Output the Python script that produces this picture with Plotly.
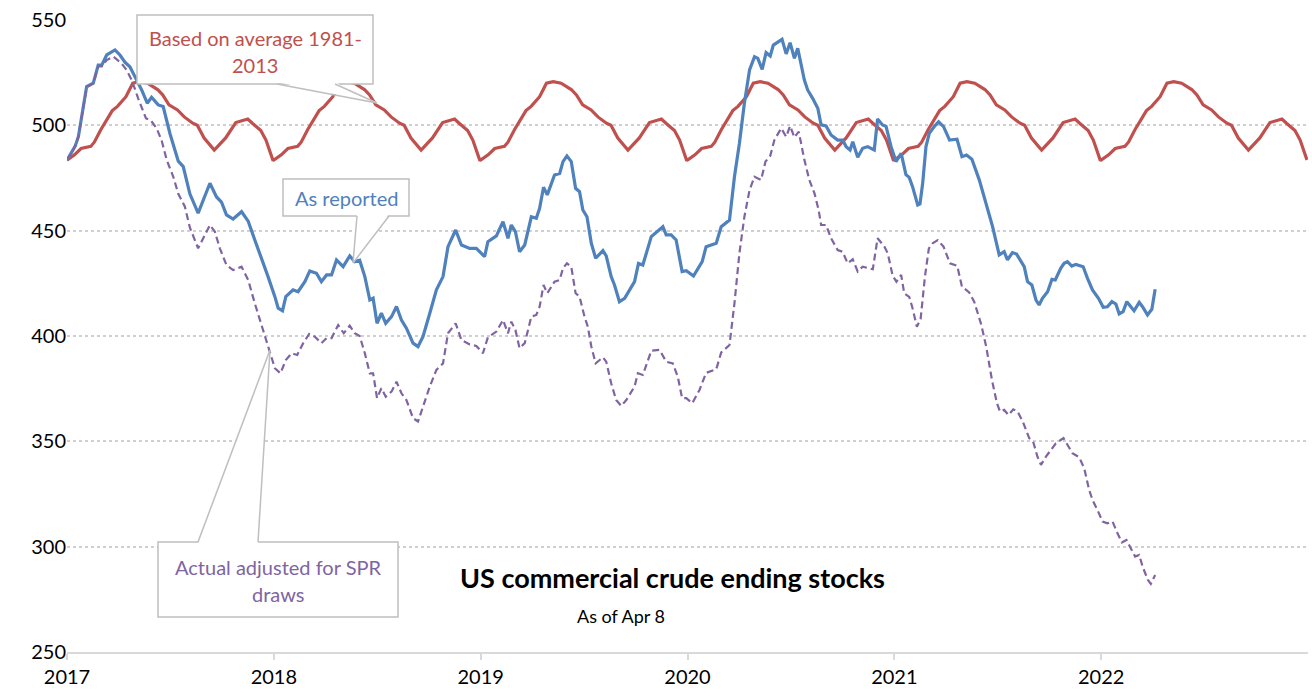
import plotly.graph_objects as go

# ---------------- data ----------------
# x positions are decimal years (2017.0 = 1 Jan 2017)
blue_t = [0.000,0.039,0.055,0.071,0.095,0.127,0.151,0.168,0.192,0.232,0.256,0.280,0.304,0.329,0.361,0.388,0.409,0.441,0.465,0.498,
0.538,0.562,0.594,0.634,0.691,0.723,0.747,0.771,0.803,0.844,0.876,0.908,0.941,0.972,1.005,1.021,1.042,1.058,1.093,1.117,
1.150,1.174,1.206,1.230,1.255,1.279,1.303,1.335,1.367,1.391,1.415,1.440,1.464,1.480,1.499,1.520,1.541,1.569,1.593,1.617,
1.641,1.673,1.697,1.721,1.754,1.786,1.818,1.842,1.879,1.907,1.947,1.979,2.019,2.035,2.076,2.108,2.132,2.148,2.168,2.188,
2.213,2.245,2.269,2.285,2.304,2.322,2.357,2.382,2.398,2.417,2.438,2.459,2.478,2.494,2.514,2.535,2.556,2.591,2.607,2.631,
2.647,2.671,2.696,2.744,2.763,2.784,2.825,2.881,2.897,2.921,2.945,2.974,2.994,3.029,3.071,3.090,3.139,3.163,3.203,3.227,
3.251,3.275,3.300,3.324,3.340,3.361,3.380,3.400,3.415,3.457,3.477,3.496,3.517,3.533,3.565,3.581,3.605,3.630,3.646,3.670,
3.694,3.726,3.750,3.767,3.786,3.799,3.823,3.847,3.871,3.903,3.919,3.943,3.960,3.984,4.008,4.033,4.056,4.072,4.088,4.113,
4.124,4.137,4.153,4.169,4.193,4.214,4.238,4.267,4.303,4.327,4.349,4.375,4.411,4.443,4.475,4.507,4.531,4.547,4.571,4.591,
4.628,4.644,4.665,4.685,4.700,4.716,4.741,4.762,4.778,4.805,4.821,4.837,4.858,4.878,4.913,4.934,4.958,4.987,5.010,5.030,
5.052,5.071,5.087,5.106,5.124,5.159,5.184,5.200,5.224,5.245,5.261]
blue_v = [483.5,490,494.6,504,518.4,520,528.6,528.6,533.4,535.8,533.4,530,527.8,523,516.8,510.5,513.3,509.7,508.9,496,
483,480.4,467.5,458.3,472.5,466,463.5,457.5,455.5,459,454.5,445.6,436.9,428.2,418.7,413.2,412,418.7,421.9,421,
425.8,430.9,429.8,425.8,429,429,436.1,432.9,438,435.3,436,428.2,417.1,417.9,406,410.8,406,409.2,414,407.6,
403.7,396.6,395,399.7,410.8,421.9,428.2,442.4,450.3,443.2,441.6,441.6,437.7,444.8,447.5,454.3,446.4,452.7,449.5,440,
443.2,456.6,455.9,460.6,470.6,467,476.4,477.2,482.8,485.5,482.8,470.1,468.5,459.8,456.6,444,436.9,440.5,438,428.2,
424.2,416.3,417.9,425.8,434.5,433.7,447.2,451.9,448,448,445.6,430.6,431,428.5,435.3,442.4,444,451.9,455,475.6,
491.5,510.5,526.3,532.6,531.8,526.6,534.5,532.9,538.1,540.8,533.9,539.2,531.8,536.6,521.5,516.8,512.8,508.1,500.2,499.7,
495.4,493,493,489.9,488.3,492.2,484.8,489.1,489.9,488.3,503,500.2,499.5,490,482.8,486.7,476.6,475.3,470.9,462.2,
462.7,472.5,489.9,496.2,499.4,501.7,499.4,493,493.4,485.1,485.9,483.9,474,463,451.9,438.5,440,436.1,439.6,438.9,
432.9,425.8,424.2,417.1,414.7,417.9,421,426.9,426.6,432.2,434.5,435.3,433.2,434,432.9,427.4,421.9,417.9,413.6,413.9,
416.3,415.2,410.5,411.6,416.3,412,416,413.9,410,412.7,422.2]

purple_t = [0.000,0.039,0.055,0.071,0.095,0.127,0.151,0.168,0.192,0.224,0.264,0.288,0.313,0.344,0.382,0.404,0.433,0.457,0.482,0.514,
0.538,0.570,0.594,0.634,0.691,0.715,0.739,0.771,0.803,0.844,0.876,0.908,0.941,0.972,1.005,1.032,1.058,1.086,1.113,1.142,
1.171,1.198,1.230,1.255,1.279,1.311,1.338,1.367,1.391,1.415,1.440,1.464,1.480,1.499,1.520,1.541,1.569,1.593,1.617,1.641,
1.673,1.697,1.721,1.754,1.786,1.818,1.842,1.879,1.907,1.947,1.979,2.011,2.035,2.076,2.108,2.132,2.148,2.168,2.188,2.213,
2.245,2.269,2.285,2.304,2.322,2.357,2.382,2.398,2.417,2.438,2.459,2.478,2.502,2.518,2.535,2.556,2.591,2.607,2.631,2.655,
2.680,2.704,2.744,2.760,2.784,2.825,2.865,2.897,2.929,2.953,2.974,2.994,3.023,3.058,3.090,3.139,3.163,3.203,3.227,3.251,
3.275,3.300,3.324,3.356,3.377,3.400,3.420,3.453,3.477,3.496,3.517,3.538,3.565,3.589,3.614,3.634,3.646,3.670,3.694,3.726,
3.750,3.774,3.799,3.823,3.847,3.896,3.919,3.952,3.968,3.992,4.010,4.033,4.048,4.072,4.088,4.109,4.127,4.148,4.167,4.185,
4.210,4.238,4.269,4.304,4.327,4.362,4.386,4.420,4.444,4.472,4.496,4.511,4.531,4.552,4.575,4.596,4.623,4.652,4.671,4.692,
4.709,4.733,4.757,4.781,4.818,4.837,4.861,4.894,4.918,4.942,4.958,4.982,5.007,5.030,5.055,5.079,5.100,5.122,5.143,5.164,
5.184,5.200,5.226,5.240,5.261]
purple_v = [483.5,490,494.6,504,518,520,528,528,531,532.6,529.4,526.3,521.5,512.8,503.3,502.5,498.6,493,483.6,475.6,
467.5,461.4,451.5,441.6,452.7,449.5,441.6,433.7,431.3,432.9,426.6,415.5,405.2,395,384.7,382.3,388.6,391.8,391,396.6,
401,399.7,396.6,399,399,405.2,401.3,404.9,401.3,400,391.8,382.3,382.3,370.5,375.2,371.2,373.6,378.3,372.8,369.6,
361,359.4,366.5,376,383.9,387,401.3,406,398.1,396,395.3,391.8,399.4,402.1,407.6,401.3,406.8,402.9,394.2,396.6,
409.2,410,413.9,424.2,420.3,425.8,426.6,432.2,434.5,432.9,420.3,418.7,409.2,404.4,395,387,389.9,387.8,377.6,369.6,
366.8,369.6,376,382.3,381.5,393,393.4,387.8,387,380.7,370.5,370.5,368.1,374.4,382.5,384.2,392.2,395.7,415.5,439.3,
456.6,469.3,475.6,474.1,482.8,485.5,493,498.6,494.6,499.7,494.3,497,483.6,474.1,467.7,459.8,452.7,452.7,446.4,440.8,
440,434.5,436.4,430.6,432.9,431.7,446.4,442.4,439.3,428.6,425.8,429,420.2,418.6,413.2,404.4,408,428.2,441.6,444,
445.5,442.4,434.5,433.3,423.4,420.7,416.3,405.5,395,379.1,368.1,364.1,364.9,362.5,365.2,364.1,358.9,351.5,349.9,342.7,
338.8,342.7,345.9,349.1,351.5,348.3,344.4,342.4,337.2,326.9,322.2,317.4,311.9,311.1,311.9,306.4,302,303.2,299.3,295.3,
296.1,290.6,284.2,282.3,286.6]

# seasonal average (1981-2013) pattern, fraction of year -> level, repeated each year
avg_frac = [0.000,0.036,0.068,0.115,0.132,0.164,0.219,0.244,0.285,0.318,0.351,0.389,0.438,0.463,0.493,0.534,0.567,0.608,0.630,0.663,
0.712,0.767,0.816,0.874,0.896,0.937,0.962,0.995]
avg_vals = [483.5,486,489,490,492,498,507,509,513.6,520,520.7,520,517,514.4,509.7,507.3,504,501,500,494,
488.3,494,501.3,503,501,497.5,493,483.6]
years = [2017, 2018, 2019, 2020, 2021, 2022]
year_labels = ["2017", "2018", "2019", "2020", "2021", "2022"]

# ---------------- figure ----------------
BLUE = "#4f81bd"
RED = "#c0504d"
PURPLE = "#8064a2"
GREY = "#bfbfbf"
FONT = "Lato"

red_x, red_y = [], []
for yr in years:
    for f, v in zip(avg_frac, avg_vals):
        red_x.append(yr + f)
        red_y.append(v)

fig = go.Figure()
fig.add_trace(go.Scatter(x=red_x, y=red_y, mode="lines", name="Based on average 1981-2013",
                         line=dict(color=RED, width=3.2)))
fig.add_trace(go.Scatter(x=[2017 + t for t in blue_t], y=blue_v, mode="lines", name="As reported",
                         line=dict(color=BLUE, width=3.2)))
fig.add_trace(go.Scatter(x=[2017 + t for t in purple_t], y=purple_v, mode="lines",
                         name="Actual adjusted for SPR draws",
                         line=dict(color=PURPLE, width=2.2, dash="7px,4px")))

L, R, T, B = 67, 4, 20, 46
W, H = 1312, 698
pw, ph = W - L - R, H - T - B


def px(xp):
    return (xp - L) / pw


def py(yp):
    return (H - B - yp) / ph


shapes = []
annos = []


def callout(box, base, tip, lines, color, size):
    x0, y0, x1, y1 = box
    shapes.append(dict(type="rect", xref="paper", yref="paper", x0=px(x0), x1=px(x1), y0=py(y1), y1=py(y0),
                       line=dict(color=GREY, width=1.5), fillcolor="white", layer="above"))
    (bx1, by), (bx2, _) = base
    tx, ty = tip
    inset = 2 if ty > by else -2
    path = "M {a},{b} L {c},{d} L {e},{f} Z".format(a=px(bx1), b=py(by - inset), c=px(tx), d=py(ty),
                                                     e=px(bx2), f=py(by - inset))
    shapes.append(dict(type="path", xref="paper", yref="paper", path=path, fillcolor="white",
                       line=dict(width=0), layer="above"))
    for bx in (bx1, bx2):
        shapes.append(dict(type="line", xref="paper", yref="paper", x0=px(bx), y0=py(by), x1=px(tx), y1=py(ty),
                           line=dict(color=GREY, width=1.5), layer="above"))
    for (lx, ly, txt) in lines:
        annos.append(dict(xref="paper", yref="paper", x=px(lx), y=py(ly), text=txt, showarrow=False,
                          xanchor="center", yanchor="middle", font=dict(family=FONT, size=size, color=color)))


callout((137, 15, 373, 84), ((277, 84), (335, 84)), (377, 103),
        [(255, 38, "Based on average 1981-"), (255, 65, "2013")], RED, 20)
callout((283, 179, 409, 216), ((357, 216), (389, 216)), (353, 263),
        [(346, 198, "As reported")], BLUE, 20)
callout((158, 542, 398, 617), ((198, 542), (258, 542)), (270, 350),
        [(278, 567, "Actual adjusted for SPR"), (278, 594, "draws")], PURPLE, 20)

annos.append(dict(xref="paper", yref="paper", x=px(672), y=py(577), text="<b>US commercial crude ending stocks</b>",
                  showarrow=False, xanchor="center", yanchor="middle",
                  font=dict(family=FONT, size=27, color="black")))
annos.append(dict(xref="paper", yref="paper", x=px(621), y=py(616), text="As of Apr 8",
                  showarrow=False, xanchor="center", yanchor="middle",
                  font=dict(family=FONT, size=18, color="black")))

fig.update_layout(
    width=W, height=H,
    margin=dict(l=L, r=R, t=T, b=B),
    paper_bgcolor="white", plot_bgcolor="white",
    showlegend=False,
    shapes=shapes, annotations=annos,
    font=dict(family=FONT, size=20, color="black"),
)
fig.update_xaxes(range=[2017, 2023], tickvals=years, ticktext=year_labels,
                 showgrid=False, zeroline=False, showline=True, linecolor="#d9d9d9", linewidth=2,
                 ticks="outside", ticklen=6, tickwidth=1.5, tickcolor="#d9d9d9", automargin=False,
                 tickfont=dict(family=FONT, size=20, color="black"))
fig.update_yaxes(range=[250, 550], tickvals=[250, 300, 350, 400, 450, 500, 550],
                 showgrid=True, gridcolor="#d0d0d0", gridwidth=1.5, griddash="dot",
                 zeroline=False, showline=False, ticks="", automargin=False,
                 tickfont=dict(family=FONT, size=20, color="black"))

fig.write_html("out.html", config={"displayModeBar": False},
               post_script="document.body.style.margin='0';")
